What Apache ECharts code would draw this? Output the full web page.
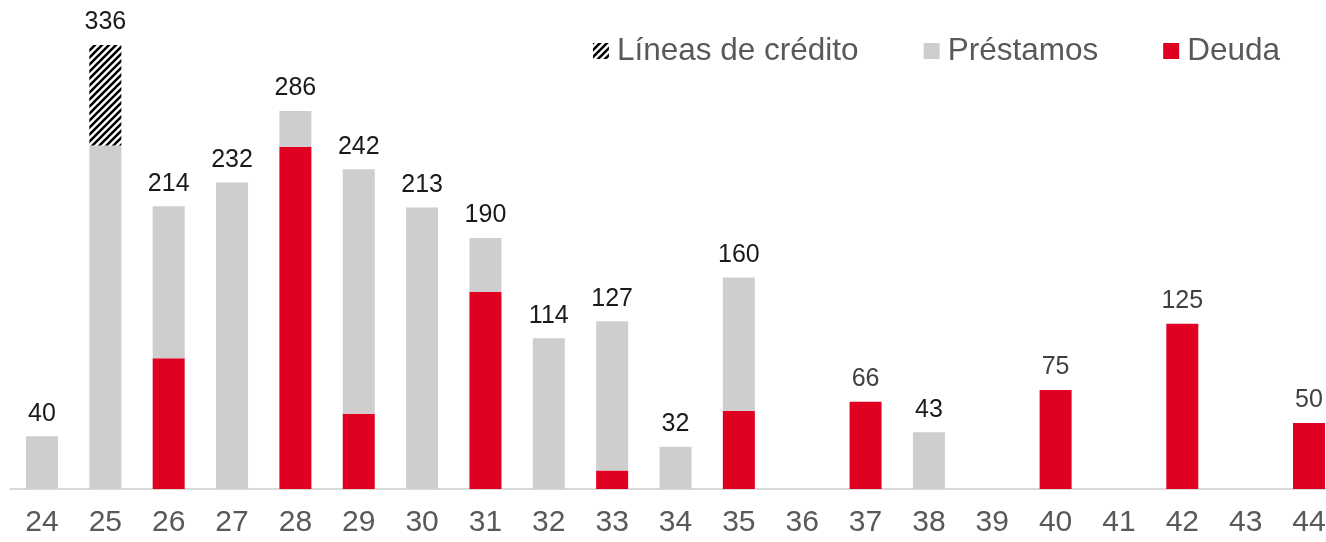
<!DOCTYPE html>
<html>
<head>
<meta charset="utf-8">
<script src="https://cdn.jsdelivr.net/npm/echarts@6/dist/echarts.min.js"></script>
<style>
  html, body { margin: 0; padding: 0; background: #fff; }
  #chart { width: 1326px; height: 542px; }
</style>
</head>
<body>
<div id="chart"></div>
<script>
// años (categorías)
const years = ['24','25','26','27','28','29','30','31','32','33','34','35','36','37','38','39','40','41','42','43','44'];
// series apiladas
const deuda     = [0, 0, 99, 0, 259, 57, 0, 149, 0, 14, 0, 59, 0, 66, 0, 0, 75, 0, 125, 0, 50];
const prestamos = [40, 260, 115, 232, 27, 185, 213, 41, 114, 113, 32, 101, 0, 0, 43, 0, 0, 0, 0, 0, 0];
const lineas    = [0, 76, 0, 0, 0, 0, 0, 0, 0, 0, 0, 0, 0, 0, 0, 0, 0, 0, 0, 0, 0];
// totales que se muestran encima
const totals    = [40, 336, 214, 232, 286, 242, 213, 190, 114, 127, 32, 160, 0, 66, 43, 0, 75, 0, 125, 0, 50];

// trama rayada para líneas de crédito
function hatch() {
  const s = 7;
  const c = document.createElement('canvas');
  c.width = s; c.height = s;
  const ctx = c.getContext('2d');
  ctx.fillStyle = '#fff';
  ctx.fillRect(0, 0, s, s);
  ctx.strokeStyle = '#000';
  ctx.lineWidth = 2.6;
  ctx.beginPath();
  ctx.moveTo(-1, 1); ctx.lineTo(1, -1);
  ctx.moveTo(0, s); ctx.lineTo(s, 0);
  ctx.moveTo(s - 1, s + 1); ctx.lineTo(s + 1, s - 1);
  ctx.stroke();
  return c;
}

const chart = echarts.init(document.getElementById('chart'));
chart.setOption({
  animation: false,
  legend: {
    data: ['Líneas de crédito', 'Préstamos', 'Deuda'],
    top: 30,
    right: 41,
    itemWidth: 16,
    itemHeight: 16,
    itemGap: 65,
    icon: 'rect',
    textStyle: { fontFamily: 'Liberation Sans', fontSize: 31.5, color: '#595959', padding: [0, 0, 0, 3] }
  },
  grid: { left: 10.3, width: 1330.4, top: 26.5, bottom: 53, outerBoundsMode: 'none' },
  xAxis: {
    type: 'category',
    data: years,
    axisLine: { lineStyle: { color: '#D9D9D9', width: 2 } },
    axisTick: { show: false },
    axisLabel: { fontFamily: 'Liberation Sans', fontSize: 30, color: '#595959', margin: 19 }
  },
  yAxis: { type: 'value', min: 0, max: 350, show: false, splitLine: { show: false } },
  series: [
    {
      name: 'Deuda', type: 'bar', stack: 't', barWidth: 32,
      itemStyle: { color: '#E00022' },
      data: deuda
    },
    {
      name: 'Préstamos', type: 'bar', stack: 't', barWidth: 32,
      itemStyle: { color: '#CFCDCE' },
      data: prestamos
    },
    {
      name: 'Líneas de crédito', type: 'bar', stack: 't', barWidth: 32,
      itemStyle: { color: { image: hatch(), repeat: 'repeat' } },
      data: lineas
    },
    {
      name: 'total', type: 'bar', stack: 't', barWidth: 32,
      itemStyle: { color: 'transparent' },
      data: totals.map((t, i) => ({
        value: 0,
        label: { color: (prestamos[i] === 0 && deuda[i] > 0) ? '#404040' : '#1a1a1a' }
      })),
      label: {
        show: true, position: 'top', distance: 10,
        fontFamily: 'Liberation Sans', fontSize: 25,
        formatter: p => totals[p.dataIndex] ? String(totals[p.dataIndex]) : ''
      }
    }
  ]
});
</script>
</body>
</html>
